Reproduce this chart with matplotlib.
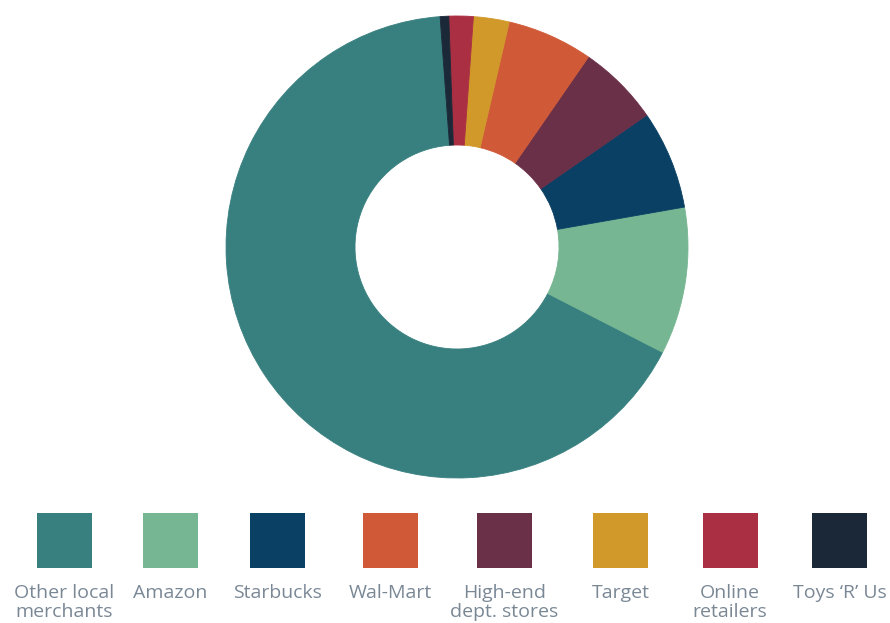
import matplotlib.pyplot as plt
from matplotlib.patches import Rectangle

# legend order
labels = ["Other local\nmerchants", "Amazon", "Starbucks", "Wal-Mart",
          "High-end\ndept. stores", "Target", "Online\nretailers", "Toys \u2018R\u2019 Us"]
values = [66.3, 10.3, 6.9, 6.0, 5.7, 2.5, 1.7, 0.6]
colors = ["#38807F", "#76B692", "#0A4064", "#D05A38",
          "#6A3048", "#D1992A", "#AA2F42", "#1B2838"]

# order the slices appear in, counterclockwise from "Other local merchants"
pie_order = [0, 1, 2, 4, 3, 5, 6, 7]

plt.rcParams['font.family'] = ['Open Sans', 'DejaVu Sans']

fig = plt.figure(figsize=(8.9, 6.23), dpi=100)
ax = fig.add_axes([0, 0, 1, 1])

pv = [values[i] for i in pie_order]
pc = [colors[i] for i in pie_order]
ax.pie(pv, colors=pc, center=(457, 376), radius=231, startangle=94.2,
       counterclock=True, frame=True,
       wedgeprops=dict(width=129, linewidth=0.6))
for w, c in zip(ax.patches, pc):
    w.set_edgecolor(c)
ax.set_xlim(0, 890)
ax.set_ylim(0, 623)
ax.set_aspect("equal")
ax.axis("off")

# legend
centers = [64.5, 170, 277.5, 390, 504.5, 620.5, 730, 839.5]
sq = 55
for cx, lab, col in zip(centers, labels, colors):
    ax.add_patch(Rectangle((cx - sq / 2, 623 - 568), sq, sq, facecolor=col,
                           edgecolor="none"))
    ax.text(cx, 623 - 584, lab, ha="center", va="top", fontsize=14,
            color="#7A8896", linespacing=1.05)

fig.savefig("out.png", dpi=100)
